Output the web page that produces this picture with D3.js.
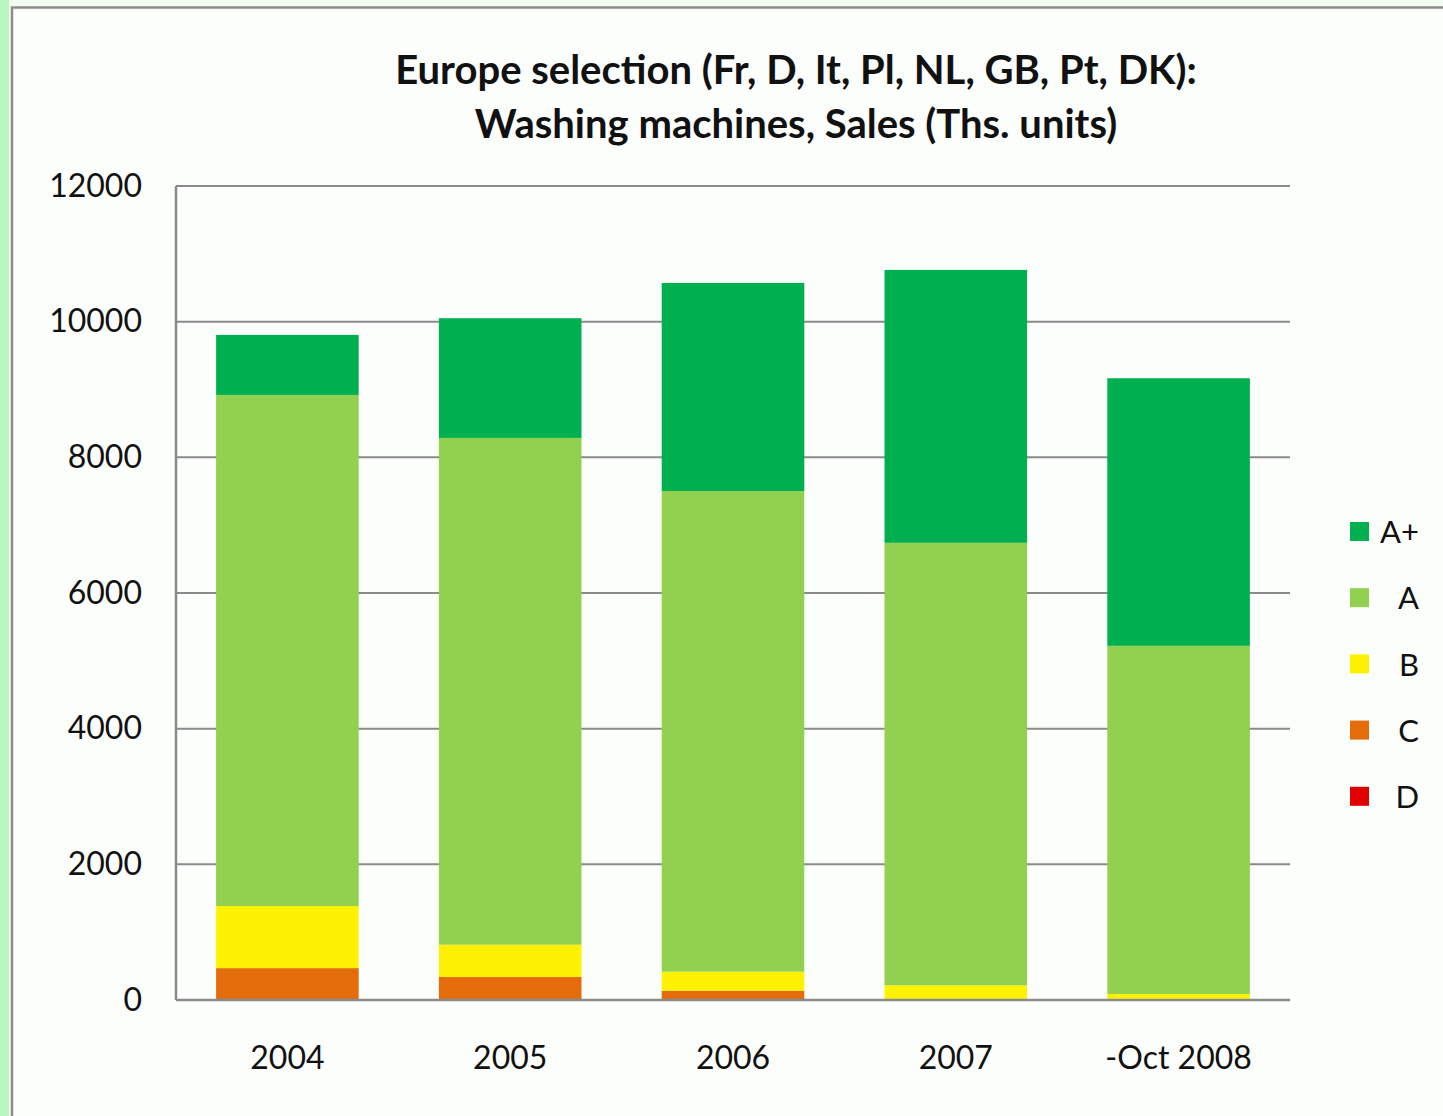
<!DOCTYPE html>
<html>
<head>
<meta charset="utf-8">
<script src="https://cdn.jsdelivr.net/npm/d3@7"></script>
<style>
  html, body { margin: 0; padding: 0; background: #f2fdf2; }
  svg { display: block; }
</style>
</head>
<body>
<script>
//wrap everything in anon function
(function(){
    //chart data
    var years = ["2004", "2005", "2006", "2007", "-Oct 2008"];
    var classes = ["D", "C", "B", "A", "A+"]; //stacking order, bottom to top
    var valD  = [0, 0, 0, 0, 0];
    var valC  = [470, 340, 137, 15, 5];
    var valB  = [915, 476, 280, 202, 83];
    var valA  = [7535, 7470, 7087, 6523, 5133];
    var valAp = [885, 1765, 3067, 4023, 3945];
    var yTicks = [0, 2000, 4000, 6000, 8000, 10000, 12000];
    var legendOrder = ["A+", "A", "B", "C", "D"];

    var colors = {
        "A+": "#00b050",
        "A": "#92d050",
        "B": "#fff200",
        "C": "#e46c0a",
        "D": "#e00000"
    };

    var width = 1443,
        height = 1116;
    var margin = {left: 176, right: 153, top: 186, bottom: 116};
    var labelFont = "Lato, sans-serif";

    var svg = d3.select("body")
        .append("svg")
        .attr("width", width)
        .attr("height", height);

    //left green strip and chart frame
    svg.append("rect")
        .attr("x", 0).attr("y", 0)
        .attr("width", 9).attr("height", height)
        .attr("fill", "#b9f7c0");
    svg.append("rect")
        .attr("x", 12).attr("y", 7.5)
        .attr("width", width + 10).attr("height", height + 10)
        .attr("fill", "#fcfefc")
        .attr("stroke", "#8c8c8c")
        .attr("stroke-width", 2.5);

    //title
    var title = svg.append("text")
        .attr("text-anchor", "middle")
        .attr("font-family", "Lato, 'Open Sans', sans-serif")
        .attr("font-weight", "bold")
        .attr("font-size", 40)
        .attr("fill", "#111");
    title.append("tspan").attr("x", 796).attr("y", 84)
        .text("Europe selection (Fr, D, It, Pl, NL, GB, Pt, DK):");
    title.append("tspan").attr("x", 796).attr("y", 138)
        .text("Washing machines, Sales (Ths. units)");

    //build rows for stacking
    var rows = years.map(function(y, i){
        return {year: y, "D": valD[i], "C": valC[i], "B": valB[i], "A": valA[i], "A+": valAp[i]};
    });
    var series = d3.stack().keys(classes)(rows);

    //scales
    var x = d3.scaleBand()
        .domain(years)
        .range([margin.left, width - margin.right])
        .paddingInner(0.36)
        .paddingOuter(0.18);
    var y = d3.scaleLinear()
        .domain([0, 12000])
        .range([height - margin.bottom, margin.top]);

    //gridlines
    svg.append("g")
        .selectAll("line")
        .data(yTicks)
        .enter()
        .append("line")
        .attr("x1", margin.left)
        .attr("x2", width - margin.right)
        .attr("y1", function(d){ return y(d); })
        .attr("y2", function(d){ return y(d); })
        .attr("stroke", "#8a8a8a")
        .attr("stroke-width", 2);

    //bars
    svg.append("g")
        .selectAll("g")
        .data(series)
        .enter()
        .append("g")
        .attr("fill", function(d){ return colors[d.key]; })
        .selectAll("rect")
        .data(function(d){ return d; })
        .enter()
        .append("rect")
        .attr("x", function(d){ return x(d.data.year); })
        .attr("width", x.bandwidth())
        .attr("y", function(d){ return y(d[1]); })
        .attr("height", function(d){ return y(d[0]) - y(d[1]); });

    //axis lines
    svg.append("line")
        .attr("x1", margin.left).attr("x2", margin.left)
        .attr("y1", y(12000)).attr("y2", y(0))
        .attr("stroke", "#8a8a8a").attr("stroke-width", 2.5);
    svg.append("line")
        .attr("x1", margin.left).attr("x2", width - margin.right)
        .attr("y1", y(0)).attr("y2", y(0))
        .attr("stroke", "#8a8a8a").attr("stroke-width", 2.5);

    //y axis labels
    var yAxis = d3.axisLeft(y).tickValues(yTicks).tickFormat(d3.format("d"))
        .tickSize(0).tickPadding(34);
    var gy = svg.append("g")
        .attr("transform", "translate(" + margin.left + ",0)")
        .call(yAxis);
    gy.select(".domain").remove();
    gy.selectAll("text")
        .attr("font-family", labelFont)
        .attr("font-size", 32)
        .attr("fill", "#111");

    //x axis labels
    var xAxis = d3.axisBottom(x).tickSize(0).tickPadding(46);
    var gx = svg.append("g")
        .attr("transform", "translate(0," + y(0) + ")")
        .call(xAxis);
    gx.select(".domain").remove();
    gx.selectAll("text")
        .attr("font-family", labelFont)
        .attr("font-size", 32)
        .attr("fill", "#111");

    //legend
    var legend = svg.append("g")
        .selectAll("g")
        .data(legendOrder)
        .enter()
        .append("g")
        .attr("transform", function(d, i){ return "translate(1350," + (532 + i * 66.2) + ")"; });
    legend.append("rect")
        .attr("x", 0).attr("y", -10)
        .attr("width", 19).attr("height", 19)
        .attr("fill", function(d){ return colors[d]; });
    legend.append("text")
        .attr("x", 69)
        .attr("y", 0)
        .attr("dy", "0.36em")
        .attr("text-anchor", "end")
        .attr("font-family", labelFont)
        .attr("font-size", 31)
        .attr("fill", "#111")
        .text(function(d){ return d; });
})();
</script>
</body>
</html>
